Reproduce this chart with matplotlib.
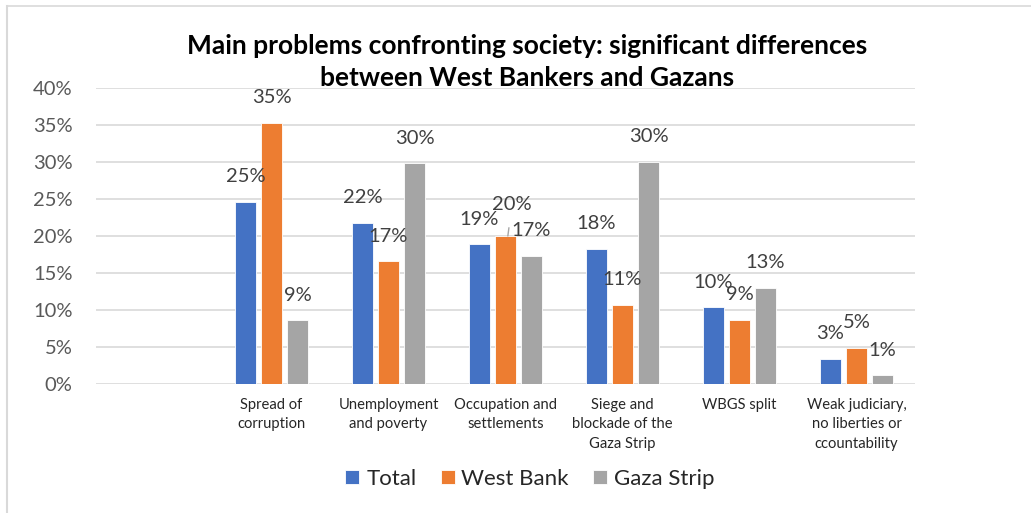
import numpy as np
import matplotlib
matplotlib.use("Agg")
import matplotlib.pyplot as plt
from matplotlib.lines import Line2D
from matplotlib.ticker import PercentFormatter

categories = ["", "Spread of\ncorruption", "Unemployment\nand poverty",
              "Occupation and\nsettlements", "Siege and\nblockade of the\nGaza Strip",
              "WBGS split", "Weak judiciary,\nno liberties or\nccountability"]
total = [np.nan, 0.246, 0.218, 0.189, 0.183, 0.104, 0.034]
west_bank = [np.nan, 0.353, 0.166, 0.200, 0.107, 0.087, 0.049]
gaza = [np.nan, 0.086, 0.298, 0.173, 0.300, 0.130, 0.012]
series = ["Total", "West Bank", "Gaza Strip"]
colors = ["#4472C4", "#ED7D31", "#A5A5A5"]

plt.rcParams['font.family'] = ['Lato', 'DejaVu Sans']

fig = plt.figure(figsize=(10.31, 5.13), dpi=100)
ax = fig.add_axes([96 / 1031, 1 - 384 / 513, (915 - 96) / 1031, (384 - 88) / 513])

x = np.arange(len(categories))
pitch = 0.222
width = 0.174
for i, (name, vals) in enumerate(zip(series, [total, west_bank, gaza])):
    pos = x + (i - 1) * pitch
    ax.bar(pos, vals, width, color=colors[i], label=name, zorder=3,
           edgecolor="white", linewidth=0.6)
    for j, (px_, v) in enumerate(zip(pos, vals)):
        if np.isnan(v):
            continue
        if i == 1 and j == 3:
            # Excel moved this label up and drew a leader line
            ax.annotate(f"{v * 100:.0f}%", (px_ + 0.02, v), xytext=(3, 23),
                        textcoords="offset points", ha="center", va="center",
                        fontsize=14.5, color="#404040", zorder=4,
                        arrowprops=dict(arrowstyle="-", color="#A6A6A6", lw=1,
                                        shrinkA=9, shrinkB=0))
            continue
        ax.annotate(f"{v * 100:.0f}%", (px_, v), xytext=(0, 18),
                    textcoords="offset points", ha="center", va="center",
                    fontsize=14.5, color="#404040", zorder=4)

ax.set_xlim(-0.5, len(categories) - 0.5)
ax.set_ylim(0, 0.40)
ax.set_yticks(np.arange(0, 0.41, 0.05))
ax.yaxis.set_major_formatter(PercentFormatter(1.0, decimals=0))
ax.grid(axis="y", color="#D9D9D9", linewidth=1.2, zorder=0)
for s in ax.spines.values():
    s.set_visible(False)
ax.tick_params(axis="y", length=0, pad=17, labelsize=14.5, labelcolor="#595959")
ax.tick_params(axis="x", length=0, pad=10)
ax.set_xticks(x)
ax.set_xticklabels(categories, fontsize=10.6, color="#262626", linespacing=1.5, va="top")

fig.text(527 / 1031, 1 - 62 / 513,
         "Main problems confronting society: significant differences\nbetween West Bankers and Gazans",
         ha="center", va="center", fontsize=19, fontweight="bold", linespacing=1.38, color="black")

fig.legend(loc="center", bbox_to_anchor=(530 / 1031, 1 - 479 / 513), ncol=3, frameon=False,
           fontsize=16, handlelength=0.63, handleheight=0.63, handletextpad=0.3,
           columnspacing=1.1, labelcolor="#262626")

# chart area border (top and left visible)
fig.add_artist(Line2D([7 / 1031, 1], [1 - 6 / 513, 1 - 6 / 513], color="#D9D9D9", lw=1.2))
fig.add_artist(Line2D([7 / 1031, 7 / 1031], [0, 1 - 6 / 513], color="#D9D9D9", lw=1.5))

fig.savefig("out.png", dpi=100)
